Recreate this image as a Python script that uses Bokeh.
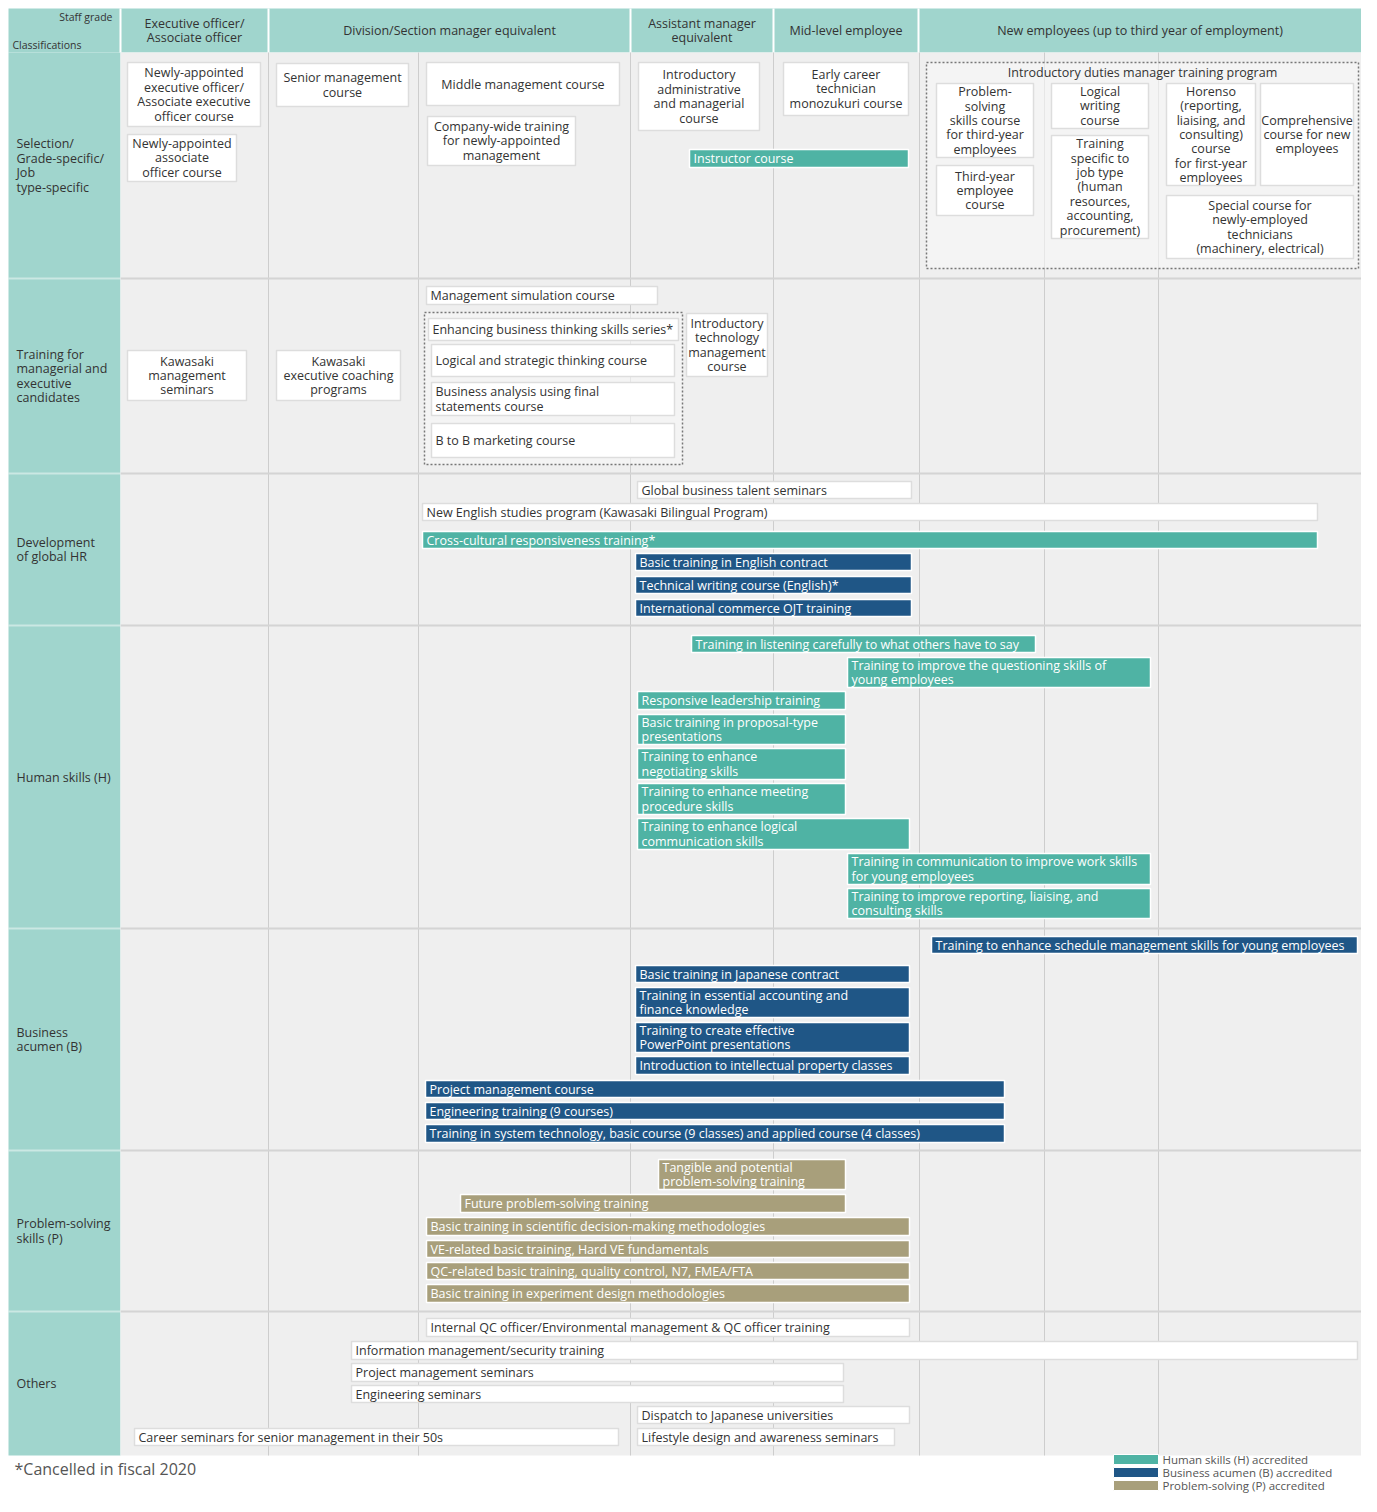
from bokeh.plotting import figure
from bokeh.models import ColumnDataSource, Range1d
from bokeh.core.properties import value
from bokeh.embed import file_html
from bokeh.resources import INLINE

FONT = "Open Sans"
FS = "12.5px"
LH = 0.85

# ---------------- header / grid structure ----------------
grade_labels = ["Executive officer/\nAssociate officer",
                "Division/Section manager equivalent",
                "Assistant manager\nequivalent",
                "Mid-level employee",
                "New employees (up to third year of employment)"]
grade_edges = [120, 268, 630, 773, 918, 1361]
column_lines = [268, 418, 630, 773, 919, 1044, 1158]

section_labels = ["Selection/\nGrade-specific/\nJob\ntype-specific",
                  "Training for\nmanagerial and\nexecutive\ncandidates",
                  "Development\nof global HR",
                  "Human skills (H)",
                  "Business\nacumen (B)",
                  "Problem-solving\nskills (P)",
                  "Others"]
section_edges = [52, 278, 473, 625, 928, 1150, 1311, 1455]

# ---------------- white boxes, centered text ----------------
wc_names = ["Newly-appointed\nexecutive officer/\nAssociate executive\nofficer course",
            "Newly-appointed\nassociate\nofficer course",
            "Senior management\ncourse",
            "Middle management course",
            "Company-wide training\nfor newly-appointed\nmanagement",
            "Introductory\nadministrative\nand managerial\ncourse",
            "Early career\ntechnician\nmonozukuri course",
            "Problem-\nsolving\nskills course\nfor third-year\nemployees",
            "Third-year\nemployee\ncourse",
            "Logical\nwriting\ncourse",
            "Training\nspecific to\njob type\n(human\nresources,\naccounting,\nprocurement)",
            "Horenso\n(reporting,\nliaising, and\nconsulting)\ncourse\nfor first-year\nemployees",
            "Comprehensive\ncourse for new\nemployees",
            "Special course for\nnewly-employed\ntechnicians\n(machinery, electrical)",
            "Kawasaki\nmanagement\nseminars",
            "Kawasaki\nexecutive coaching\nprograms",
            "Introductory\ntechnology\nmanagement\ncourse"]
wc_x0 = [127, 127, 276, 426, 427, 638, 783, 936, 936, 1051, 1051, 1166, 1260, 1166, 127, 276, 686]
wc_x1 = [260, 236, 408, 619, 575, 759, 908, 1033, 1033, 1148, 1148, 1255, 1353, 1353, 246, 400, 767]
wc_y0 = [62, 134, 63, 62, 116, 62, 62, 83, 165, 83, 135, 83, 83, 195, 350, 350, 313]
wc_y1 = [126, 181, 106, 105, 165, 130, 115, 157, 215, 128, 238, 185, 185, 258, 400, 400, 376]

# ---------------- white boxes, left text ----------------
wl_names = ["Management simulation course",
            "Enhancing business thinking skills series*",
            "Logical and strategic thinking course",
            "Business analysis using final\nstatements course",
            "B to B marketing course",
            "Global business talent seminars",
            "New English studies program (Kawasaki Bilingual Program)",
            "Internal QC officer/Environmental management & QC officer training",
            "Information management/security training",
            "Project management seminars",
            "Engineering seminars",
            "Dispatch to Japanese universities",
            "Career seminars for senior management in their 50s",
            "Lifestyle design and awareness seminars"]
wl_x0 = [426, 428, 431, 431, 431, 637, 422, 426, 351, 351, 351, 637, 134, 637]
wl_x1 = [657, 678, 674, 674, 674, 911, 1317, 909, 1357, 843, 843, 909, 618, 894]
wl_y0 = [286, 318, 344, 382, 423, 481, 503, 1318, 1341, 1363, 1385, 1406, 1428, 1428]
wl_y1 = [304, 340, 376, 415, 457, 498, 520, 1336, 1359, 1381, 1402, 1423, 1445, 1445]

# ---------------- Human skills (H) accredited ----------------
h_names = ["Instructor course",
           "Cross-cultural responsiveness training*",
           "Training in listening carefully to what others have to say",
           "Training to improve the questioning skills of\nyoung employees",
           "Responsive leadership training",
           "Basic training in proposal-type\npresentations",
           "Training to enhance\nnegotiating skills",
           "Training to enhance meeting\nprocedure skills",
           "Training to enhance logical\ncommunication skills",
           "Training in communication to improve work skills\nfor young employees",
           "Training to improve reporting, liaising, and\nconsulting skills"]
h_x0 = [689, 422, 691, 847, 637, 637, 637, 637, 637, 847, 847]
h_x1 = [908, 1317, 1035, 1150, 845, 845, 845, 845, 909, 1150, 1150]
h_y0 = [149, 531, 635, 657, 691, 714, 748, 783, 818, 853, 888]
h_y1 = [167, 548, 652, 687, 709, 744, 779, 814, 849, 884, 918]

# ---------------- Business acumen (B) accredited ----------------
b_names = ["Basic training in English contract",
           "Technical writing course (English)*",
           "International commerce OJT training",
           "Training to enhance schedule management skills for young employees",
           "Basic training in Japanese contract",
           "Training in essential accounting and\nfinance knowledge",
           "Training to create effective\nPowerPoint presentations",
           "Introduction to intellectual property classes",
           "Project management course",
           "Engineering training (9 courses)",
           "Training in system technology, basic course (9 classes) and applied course (4 classes)"]
b_x0 = [635, 635, 635, 931, 635, 635, 635, 635, 425, 425, 425]
b_x1 = [911, 911, 911, 1357, 909, 909, 909, 909, 1004, 1004, 1004]
b_y0 = [553, 576, 599, 936, 965, 987, 1022, 1056, 1080, 1102, 1124]
b_y1 = [570, 593, 616, 953, 982, 1017, 1052, 1074, 1097, 1119, 1142]

# ---------------- Problem-solving (P) accredited ----------------
p_names = ["Tangible and potential\nproblem-solving training",
           "Future problem-solving training",
           "Basic training in scientific decision-making methodologies",
           "VE-related basic training, Hard VE fundamentals",
           "QC-related basic training, quality control, N7, FMEA/FTA",
           "Basic training in experiment design methodologies"]
p_x0 = [658, 460, 426, 426, 426, 426]
p_x1 = [845, 845, 909, 909, 909, 909]
p_y0 = [1159, 1194, 1217, 1240, 1262, 1284]
p_y1 = [1189, 1212, 1235, 1257, 1279, 1302]

# ---------------- dotted program groups ----------------
group_titles = ["Introductory duties manager training program", ""]
group_x0 = [926, 424]
group_x1 = [1358, 682]
group_y0 = [62, 312]
group_y1 = [268, 464]

legend_labels = ["Human skills (H) accredited",
                 "Business acumen (B) accredited",
                 "Problem-solving (P) accredited"]
footnote = "*Cancelled in fiscal 2020"

# ---------------- colours ----------------
TEAL_BG = "#a0d5cd"
BODY_BG = "#efefef"
H_COL = "#4fb3a4"
B_COL = "#1f5686"
P_COL = "#a89f7b"
TXT = "#333333"

p = figure(width=1361, height=1496, x_range=Range1d(0, 1361), y_range=Range1d(1496, 0),
           output_backend="svg", toolbar_location=None,
           x_axis_location=None, y_axis_location=None,
           min_border=0, outline_line_color=None, background_fill_color="white")
p.grid.grid_line_color = None

R = grade_edges[-1]
# background regions
p.quad(left=[8], right=[R], top=[8], bottom=[52], fill_color=TEAL_BG, line_color=None)
p.quad(left=[8], right=[120], top=[52], bottom=[1455], fill_color=TEAL_BG, line_color=None)
p.quad(left=[120], right=[R], top=[52], bottom=[1455], fill_color=BODY_BG, line_color=None)

# header separators
p.segment(x0=grade_edges[:-1], x1=grade_edges[:-1], y0=[8] * 5, y1=[52] * 5,
          line_color="white", line_width=2)
# body column lines
n = len(column_lines)
p.segment(x0=column_lines, x1=column_lines, y0=[52] * n, y1=[1455] * n,
          line_color="#cdcdcd", line_width=1)
# section separators
inner = section_edges[1:-1]
m = len(inner)
p.segment(x0=[120] * m, x1=[R] * m, y0=inner, y1=inner, line_color="#d4d4d4", line_width=2)
p.segment(x0=[8] * m, x1=[120] * m, y0=inner, y1=inner, line_color="white", line_alpha=0.45, line_width=2)

# header texts
gx = [(grade_edges[i] + grade_edges[i + 1]) / 2 for i in range(5)]
p.text(x=gx, y=[30] * 5, text=grade_labels, text_align="center", text_baseline="middle",
       text_font=value(FONT), text_font_size=FS, text_color=TXT, text_line_height=LH)
p.text(x=[112], y=[16], text=["Staff grade"], text_align="right", text_baseline="middle",
       text_font=value(FONT), text_font_size="10.5px", text_color=TXT)
p.text(x=[12], y=[44], text=["Classifications"], text_align="left", text_baseline="middle",
       text_font=value(FONT), text_font_size="10.5px", text_color=TXT)

# section labels
sy = [(section_edges[i] + section_edges[i + 1]) / 2 for i in range(7)]
p.text(x=[16] * 7, y=sy, text=section_labels, text_align="left", text_baseline="middle",
       text_font=value(FONT), text_font_size=FS, text_color=TXT, text_line_height=LH)

# dotted groups
p.quad(left=group_x0, right=group_x1, top=group_y0, bottom=group_y1,
       fill_color="#f6f6f6", fill_alpha=0.6, line_color="#777777", line_width=1.5, line_dash="2 2")
p.text(x=[(group_x0[0] + group_x1[0]) / 2], y=[group_y0[0] + 10], text=[group_titles[0]],
       text_align="center", text_baseline="middle", text_font=value(FONT),
       text_font_size=FS, text_color=TXT)


def boxes(names, x0, x1, y0, y1, fill, line, tcolor, align):
    src = ColumnDataSource(dict(
        name=names, x0=x0, x1=x1, y0=y0, y1=y1,
        tx=[(a + b) / 2 if align == "center" else a + 4 for a, b in zip(x0, x1)],
        ty=[(a + b) / 2 for a, b in zip(y0, y1)]))
    p.quad(left="x0", right="x1", top="y0", bottom="y1", source=src,
           fill_color=fill, line_color=line, line_width=1.5)
    p.text(x="tx", y="ty", text="name", source=src, text_align=align, text_baseline="middle",
           text_font=value(FONT), text_font_size=FS, text_color=tcolor, text_line_height=LH)


boxes(wc_names, wc_x0, wc_x1, wc_y0, wc_y1, "white", "#dddddd", TXT, "center")
boxes(wl_names, wl_x0, wl_x1, wl_y0, wl_y1, "white", "#dddddd", TXT, "left")
boxes(h_names, h_x0, h_x1, h_y0, h_y1, H_COL, "white", "white", "left")
boxes(b_names, b_x0, b_x1, b_y0, b_y1, B_COL, "white", "white", "left")
boxes(p_names, p_x0, p_x1, p_y0, p_y1, P_COL, "white", "white", "left")

# footnote
p.text(x=[14], y=[1468], text=[footnote], text_align="left", text_baseline="middle",
       text_font=value(FONT), text_font_size="16px", text_color="#555555")

# legend
ly = [1459, 1472, 1485]
p.quad(left=[1113] * 3, right=[1158] * 3, top=[y - 5 for y in ly], bottom=[y + 5 for y in ly],
       fill_color=[H_COL, B_COL, P_COL], line_color="white", line_width=1)
p.text(x=[1162] * 3, y=ly, text=legend_labels, text_align="left", text_baseline="middle",
       text_font=value(FONT), text_font_size="11.5px", text_color="#555555")

open("out.html", "w").write(file_html(p, INLINE))
